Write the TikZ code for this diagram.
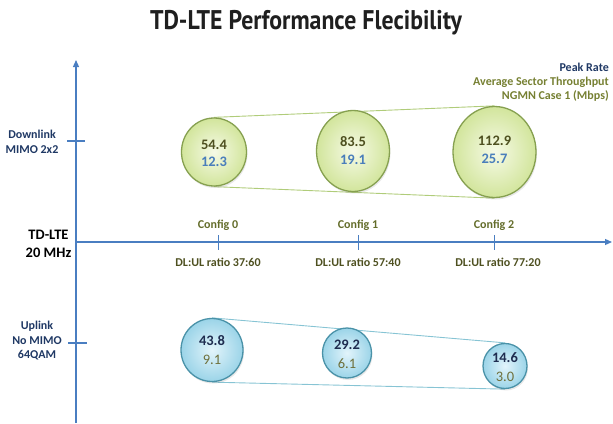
\documentclass[tikz,border=0pt]{standalone}
\usepackage{graphicx}
\usepackage{fontspec}
\setmainfont{Carlito}
\newfontfamily\titlefont{PT Sans}
\usetikzlibrary{shapes.geometric,arrows.meta,backgrounds,shadows}

\definecolor{axisblue}{RGB}{74,126,193}
\definecolor{navy}{RGB}{31,56,100}
\definecolor{olivetxt}{RGB}{118,128,50}
\definecolor{darkolive}{RGB}{78,80,32}
\definecolor{numblue}{RGB}{74,126,187}
\definecolor{gfill}{RGB}{210,229,156}
\definecolor{gin}{RGB}{246,250,230}
\definecolor{gborder}{RGB}{134,160,80}
\definecolor{bfill}{RGB}{155,212,232}
\definecolor{bin}{RGB}{226,244,251}
\definecolor{bborder}{RGB}{74,146,168}
\definecolor{glinec}{RGB}{176,204,122}
\definecolor{blinec}{RGB}{135,196,212}
\definecolor{uptxt}{RGB}{31,45,80}
\definecolor{lowtxt}{RGB}{110,112,60}

\tikzset{
  lbl/.style={font=\fontsize{12}{14.5}\selectfont\bfseries, align=center, inner sep=0pt},
  numfont/.style={font=\fontsize{14.5}{17}\selectfont\bfseries, inner sep=0pt},
  lowfont/.style={font=\fontsize{14.5}{17}\selectfont, inner sep=0pt},
  gball/.style={ellipse, inner sep=0pt, inner color=gin, outer color=gfill,
     draw=gborder, line width=1.3pt,
     drop shadow={opacity=0.18, shadow xshift=1pt, shadow yshift=-2pt}},
  bball/.style={ellipse, inner sep=0pt, inner color=bin, outer color=bfill,
     draw=bborder, line width=1.3pt,
     drop shadow={opacity=0.18, shadow xshift=1pt, shadow yshift=-2pt}},
  axisline/.style={draw=axisblue, line width=1.2pt},
  gline/.style={draw=glinec, line width=0.9pt},
  bline/.style={draw=blinec, line width=0.9pt},
}

\begin{document}
\begin{tikzpicture}[x=1pt,y=-1pt]
\useasboundingbox (0,0) rectangle (613,423);

% title
\node[inner sep=0pt, text=black!88] (title) at (306,23)
  {\resizebox{312pt}{\height}{\titlefont\bfseries\fontsize{27}{32}\selectfont TD-LTE Performance Flecibility}};

% axes
\coordinate (ybot) at (76,423);
\coordinate (ytop) at (76,60);
\coordinate (xl) at (76,242);
\coordinate (xr) at (612,242);
\draw[axisline, -{Triangle[length=7pt,width=6pt]}] (ybot) -- (ytop);
\draw[axisline, -{Triangle[length=7pt,width=6pt]}] (xl) -- (xr);

% y ticks
\coordinate (dtl) at (67,141); \coordinate (dtr) at (85,141);
\coordinate (utl) at (68,343); \coordinate (utr) at (87,343);
\draw[axisline] (dtl) -- (dtr);
\draw[axisline] (utl) -- (utr);

% x ticks
\coordinate (t0a) at (218,235); \coordinate (t0b) at (218,250);
\coordinate (t1a) at (358,235); \coordinate (t1b) at (358,250);
\coordinate (t2a) at (494,235); \coordinate (t2b) at (494,250);
\draw[axisline, line width=0.8pt] (t0a) -- (t0b);
\draw[axisline, line width=0.8pt] (t1a) -- (t1b);
\draw[axisline, line width=0.8pt] (t2a) -- (t2b);

% legend
\node[lbl, anchor=east, text=navy] (lg1) at (609,67) {Peak Rate};
\node[lbl, anchor=east, text=olivetxt] (lg2) at (609,82) {Average Sector Throughput};
\node[lbl, anchor=east, text=olivetxt] (lg3) at (609,96) {NGMN Case 1 (Mbps)};

% left labels
\node[lbl, text=navy] (dl) at (32,142) {Downlink\\MIMO 2x2};
\node[lbl, text=navy] (ul) at (37,341) {Uplink\\No MIMO\\64QAM};
\node[lbl, font=\fontsize{14.5}{18}\selectfont\bfseries, text=black] (tdd) at (48.5,244) {TD-LTE\\20 MHz};

% config labels
\node[lbl, text=olivetxt!85!black] (cf0) at (218,225) {Config 0};
\node[lbl, text=olivetxt!85!black] (cf1) at (358,225) {Config 1};
\node[lbl, text=olivetxt!85!black] (cf2) at (494,225) {Config 2};
\node[lbl, text=darkolive] (r0) at (218,262) {DL:UL ratio 37:60};
\node[lbl, text=darkolive] (r1) at (358,262) {DL:UL ratio 57:40};
\node[lbl, text=darkolive] (r2) at (498,262) {DL:UL ratio 77:20};

% downlink balls
\node[gball, minimum width=65pt, minimum height=68pt] (c1) at (214,152) {};
\node[gball, minimum width=73pt, minimum height=81pt] (c2) at (353,151) {};
\node[gball, minimum width=83pt, minimum height=91pt] (c3) at (494.5,152) {};

% uplink balls
\node[bball, minimum width=62pt, minimum height=63pt] (c4) at (212,350) {};
\node[bball, minimum width=49pt, minimum height=50pt] (c5) at (347,353) {};
\node[bball, minimum width=44pt, minimum height=45pt] (c6) at (505,366) {};

% connecting lines (behind the balls)
\begin{scope}[on background layer]
\draw[gline] (c1.north) -- (c3.north);
\draw[gline] (c1.south) -- (c3.south);
\draw[bline] (c4.north) -- (c6.north);
\draw[bline] (c4.south) -- (c6.south);
\end{scope}

% numbers
\node[numfont, text=darkolive] (n1a) at (214,145) {54.4};
\node[numfont, text=numblue] (n1b) at (214,162) {12.3};
\node[numfont, text=darkolive] (n2a) at (353,142) {83.5};
\node[numfont, text=numblue] (n2b) at (353,160) {19.1};
\node[numfont, text=darkolive] (n3a) at (494.5,141) {112.9};
\node[numfont, text=numblue] (n3b) at (494.5,159) {25.7};

\node[numfont, text=uptxt] (n4a) at (212,341) {43.8};
\node[lowfont, text=lowtxt] (n4b) at (212,360) {9.1};
\node[numfont, text=uptxt] (n5a) at (347,345) {29.2};
\node[lowfont, text=lowtxt] (n5b) at (347,364) {6.1};
\node[numfont, text=uptxt] (n6a) at (505,358) {14.6};
\node[lowfont, text=lowtxt] (n6b) at (505,377) {3.0};
\end{tikzpicture}
\end{document}
